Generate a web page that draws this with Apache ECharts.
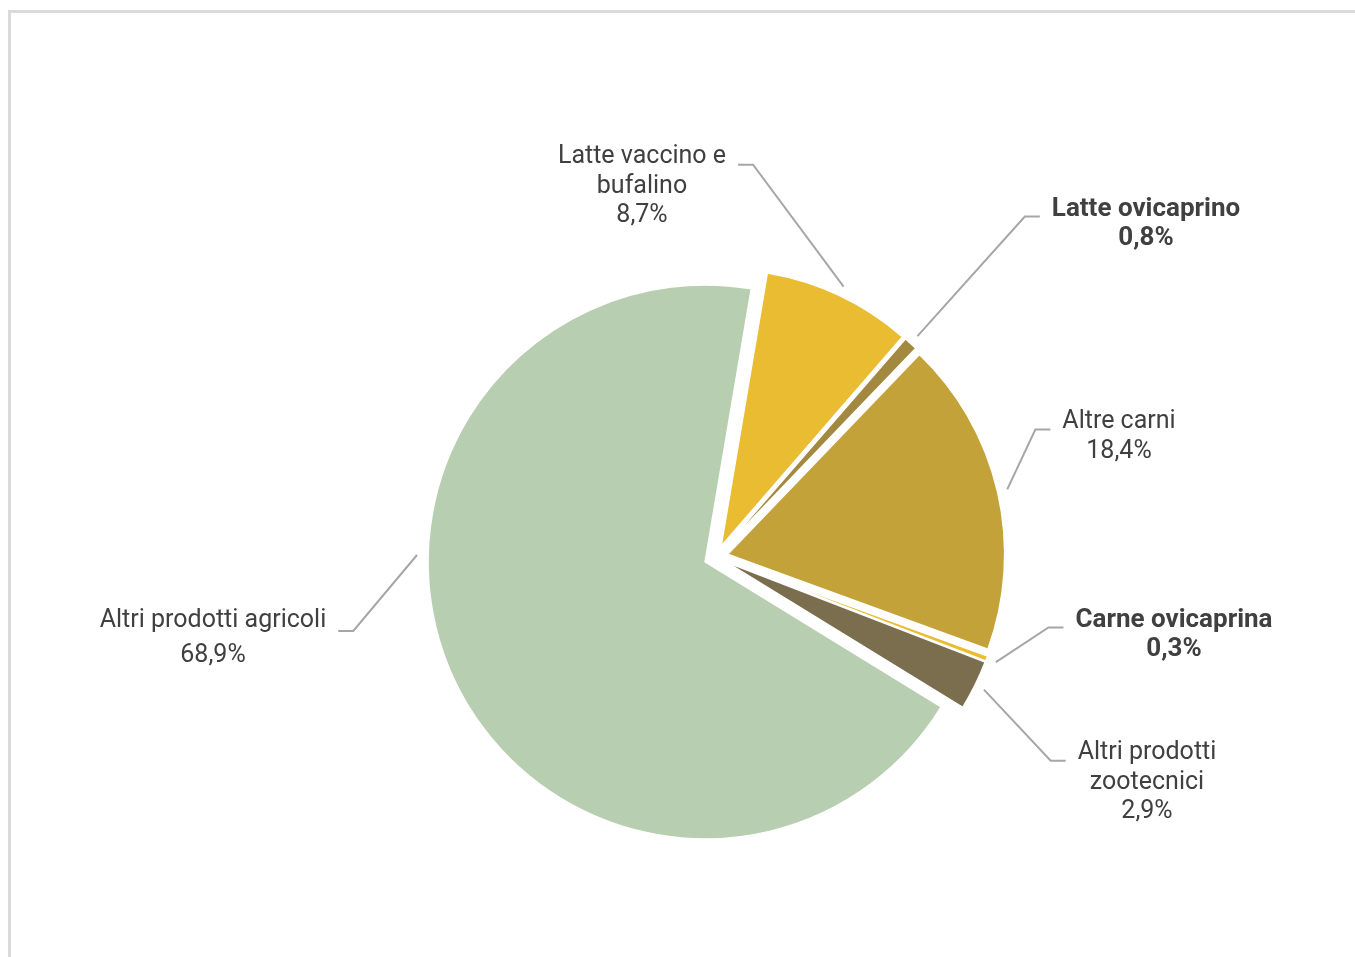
<!DOCTYPE html>
<html>
<head>
<meta charset="utf-8">
<script src="https://cdn.jsdelivr.net/npm/echarts@6/dist/echarts.min.js"></script>
<style>
  html, body { margin: 0; padding: 0; background: #fff; }
  #frame {
    position: absolute; left: 8px; top: 10px; width: 1400px; height: 1000px;
    border-top: 3px solid #dadada; border-left: 3px solid #dadada;
  }
  #chart { position: absolute; left: 0; top: 0; width: 1355px; height: 957px; }
</style>
</head>
<body>
<div id="frame"></div>
<div id="chart"></div>
<script>
// Composizione del valore della produzione (%)
const categories = [
  'Latte vaccino e\nbufalino',
  'Latte ovicaprino',
  'Altre carni',
  'Carne ovicaprina',
  'Altri prodotti\nzootecnici',
  'Altri prodotti agricoli'
];
const shares = [8.7, 0.8, 18.4, 0.3, 2.9, 68.9];
const highlighted = [false, true, false, true, false, false];
const colors = ['#E9BC31', '#A3893F', '#C4A23A', '#E9BC31', '#7B6E4F', '#B8CEB0'];

// label block centres, line height, and where along its slice each leader starts
const labelPlacement = [
  { x: 642,  y: 184,   lh: 29.5, along: 0.5 },
  { x: 1146, y: 221.5, lh: 29.5, along: 0.5 },
  { x: 1119, y: 434,   lh: 29.5, along: 0.5 },
  { x: 1174, y: 632.5, lh: 29.5, along: 0.5 },
  { x: 1147, y: 780,   lh: 29.5, along: 0.5 },
  { x: 213,  y: 635.5, lh: 35,   along: 0.6 }
];

const SELECTED_OFFSET = 12;
const LEADER_GAP = 10;    // distance of leader start beyond the slice rim
const LEADER_TAIL = 15;   // horizontal end segment
const TEXT_GAP = 12;      // space between leader end and text
const TEXT_SHIFT = 2.5;   // baseline nudge of the label text

const fmt = v => v.toFixed(1).replace('.', ',') + '%';

const data = categories.map((name, i) => {
  const style = highlighted[i] ? 'b' : (labelPlacement[i].lh > 30 ? 'w' : 'n');
  const lines = name.split('\n').concat([fmt(shares[i])]);
  return {
    name: name,
    value: shares[i],
    selected: true,
    itemStyle: { color: colors[i] },
    label: { formatter: lines.map(s => '{' + style + '|' + s + '}').join('\n') }
  };
});

const chart = echarts.init(document.getElementById('chart'), null, { renderer: 'canvas' });

function sliceLayout(i) {
  return chart.getModel().getSeriesByIndex(0).getData().getItemLayout(i);
}

chart.setOption({
  backgroundColor: 'transparent',
  animation: false,
  series: [{
    type: 'pie',
    center: [716, 557],
    radius: [0, 277],
    startAngle: 80.4,
    clockwise: true,
    selectedMode: 'multiple',
    selectedOffset: SELECTED_OFFSET,
    avoidLabelOverlap: false,
    itemStyle: { borderColor: '#ffffff', borderWidth: 1.5 },
    emphasis: { disabled: true },
    label: {
      show: true,
      color: '#404040',
      fontFamily: 'Roboto',
      rich: {
        n: { fontSize: 25, lineHeight: 29.5, color: '#404040', fontFamily: 'Roboto', align: 'center' },
        w: { fontSize: 25, lineHeight: 35, color: '#404040', fontFamily: 'Roboto', align: 'center' },
        b: { fontSize: 26, lineHeight: 29.5, color: '#404040', fontFamily: 'Roboto', fontWeight: 'bold', align: 'center' }
      }
    },
    labelLine: {
      show: true,
      length: 20,
      length2: 15,
      lineStyle: { color: '#a6a6a6', width: 2 }
    },
    labelLayout: function (params) {
      const i = params.dataIndex;
      const p = labelPlacement[i];
      const r = params.labelRect;
      const L = sliceLayout(i);
      const mid = (L.startAngle + L.endAngle) / 2;
      // the selected slice (and everything attached to it) is shifted along its bisector
      const ox = Math.cos(mid) * SELECTED_OFFSET;
      const oy = Math.sin(mid) * SELECTED_OFFSET;

      const a = L.startAngle + p.along * (L.endAngle - L.startAngle);
      const R = L.r + SELECTED_OFFSET + LEADER_GAP;
      const start = [L.cx + R * Math.cos(a) - ox, L.cy + R * Math.sin(a) - oy];

      const onLeft = p.x < L.cx;
      const side = onLeft ? -1 : 1;
      const lineY = p.y - r.height / 2 + p.lh / 2 + 8 - oy;
      const endX = p.x - side * (r.width / 2 + TEXT_GAP) - ox;
      const elbowX = endX - side * LEADER_TAIL;

      return {
        dx: p.x - (r.x + r.width / 2) - ox,
        dy: p.y - (r.y + r.height / 2) - oy + TEXT_SHIFT,
        labelLinePoints: [start, [elbowX, lineY], [endX, lineY]]
      };
    },
    data: data
  }]
});
</script>
</body>
</html>
